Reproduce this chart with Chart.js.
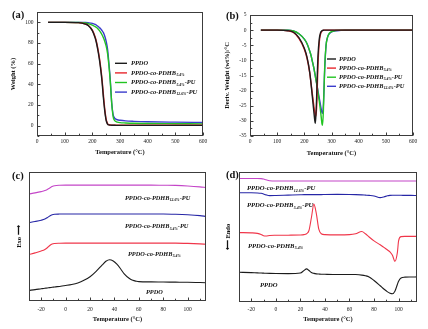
<!DOCTYPE html>
<html>
<head>
<meta charset="utf-8">
<script src="https://cdn.jsdelivr.net/npm/chart.js@4.4.1/dist/chart.umd.min.js"></script>
<style>
  html, body { margin: 0; padding: 0; background: #fff; }
  #fig { position: relative; width: 428px; height: 329px; overflow: hidden; }
  canvas { position: absolute; }
</style>
</head>
<body>
<div id="fig">
  <canvas id="cA" width="214" height="160" style="left:0;top:0"></canvas>
  <canvas id="cB" width="214" height="160" style="left:214px;top:0"></canvas>
  <canvas id="cC" width="214" height="169" style="left:0;top:160px"></canvas>
  <canvas id="cD" width="214" height="169" style="left:214px;top:160px"></canvas>
</div>
<script>
// Noms des échantillons : partie principale, indice, suffixe
const LABEL_MAIN = ['PPDO', 'PPDO-co-PDHB', 'PPDO-co-PDHB', 'PPDO-co-PDHB'];
const LABEL_SUB = ['', '5.4%', '5.4%', '12.6%'];
const LABEL_TAIL = ['', '', '-PU', '-PU'];

// (a) TGA : poids (%) vs température
const T_A = [40, 100, 150, 175, 185, 200, 210, 215, 220, 225, 230, 235, 240, 245, 250, 255, 260, 265, 270, 275, 280, 285, 290, 300, 320, 350, 400, 500, 600];
const A_PPDO = [100, 100, 99.7, 98.3, 97, 92, 85, 80, 73, 65, 55, 43, 27, 14, 5, 1.5, 0.7, 0.5, 0.4, 0.4, 0.4, 0.3, 0.3, 0.3, 0.3, 0.3, 0.3, 0.3, 0.3];
const A_PDHB = [100, 100, 99.7, 98.4, 97.2, 92.5, 86, 81, 74.5, 66.5, 57, 45, 30, 16, 6, 2, 0.9, 0.6, 0.5, 0.5, 0.5, 0.4, 0.4, 0.4, 0.4, 0.4, 0.4, 0.4, 0.4];
const A_PU54 = [100, 100, 99.9, 99.4, 98.8, 97.3, 95.8, 95, 93.8, 92.2, 90.3, 88, 85, 81.5, 77, 70, 58, 42, 22, 9, 5.2, 4, 3.4, 2.9, 2.6, 2.3, 2.1, 1.9, 1.7];
const A_PU126 = [100, 100, 100, 99.8, 99.6, 99, 98, 97.2, 96.2, 95, 93.8, 92, 90, 86.5, 81.5, 74, 60, 44, 22, 11, 7.5, 6.3, 5.7, 5.2, 4.6, 4.2, 3.8, 3.4, 3.1];
const A_X_TICKS = [0, 100, 200, 300, 400, 500, 600];
const A_Y_TICKS = [0, 20, 40, 60, 80, 100];

// (b) DTG : dérivée du poids vs température
const T_B = [40, 100, 140, 160, 180, 200, 210, 220, 225, 230, 235, 238, 240, 242, 245, 248, 250, 255, 260, 263, 265, 267, 270, 273, 275, 280, 285, 290, 300, 320, 350, 400, 500, 600];
const B_PPDO = [0, 0, -0.2, -0.7, -2.5, -6, -9, -14, -18, -22.5, -27, -29.5, -30.8, -29, -23, -14, -9, -3, -0.8, -0.4, -0.2, -0.1, -0.05, 0, 0, 0, 0, 0, 0, 0, 0, 0, 0, 0];
const B_PDHB = [0, 0, -0.2, -0.8, -2.7, -6.3, -9.3, -14.2, -17.8, -21.5, -25, -27, -28, -28.5, -26, -18, -12, -4, -1.2, -0.6, -0.3, -0.15, -0.05, 0, 0, 0, 0, 0, 0, 0, 0, 0, 0, 0];
const B_PU54 = [0, 0, 0, -0.3, -1.2, -3, -4.5, -7, -8.5, -10.5, -12.5, -14, -15, -16, -17.5, -19, -20.5, -23.5, -27, -29.5, -31, -31.5, -27, -18, -12, -5, -2.5, -1.3, -0.5, -0.1, 0, 0, 0, 0];
const B_PU126 = [0, 0, 0, -0.3, -1.2, -3, -4.5, -7, -8.5, -10.5, -12.5, -14, -15, -16, -17.5, -19, -20, -22.5, -25, -26.5, -27.2, -27.5, -25, -18, -13, -5, -2.5, -1.4, -0.6, -0.2, 0, 0, 0, 0];
const B_X_TICKS = [0, 100, 200, 300, 400, 500, 600];
const B_Y_TICKS = [-35, -30, -25, -20, -15, -10, -5, 0, 5];

// (c) DSC refroidissement (unités arbitraires, courbes décalées)
const T_C = [-30, -25, -20, -17, -15, -13, -11, -9, -5, 0, 5, 10, 15, 20, 25, 30, 33, 36, 39, 42, 45, 48, 52, 55, 58, 60, 70, 80, 90, 100, 110, 115];
const C_PU126 = [83, 83.8, 84.8, 85.6, 86.5, 87.6, 88.7, 89.3, 89.7, 89.8, 89.8, 89.8, 89.8, 89.8, 89.8, 89.8, 89.8, 89.8, 89.8, 89.8, 89.8, 89.8, 89.8, 89.8, 89.8, 89.8, 89.8, 89.7, 89.6, 89.2, 88.5, 88];
const C_PU54 = [60.8, 61.6, 62.6, 63.5, 64.6, 65.9, 66.8, 67.2, 67.4, 67.5, 67.5, 67.5, 67.5, 67.5, 67.5, 67.5, 67.5, 67.5, 67.5, 67.5, 67.5, 67.5, 67.5, 67.5, 67.5, 67.5, 67.5, 67.5, 67.3, 66.9, 66.2, 65.6];
const C_PDHB = [36, 37.3, 38.8, 40, 41.3, 43, 44.2, 44.6, 44.8, 44.9, 44.9, 44.9, 44.9, 44.9, 44.9, 44.9, 44.9, 44.9, 44.9, 44.9, 44.9, 44.9, 44.9, 44.9, 44.9, 44.9, 44.9, 44.9, 44.9, 44.7, 44.3, 44];
const C_PPDO = [8.2, 8.8, 9.5, 9.9, 10.1, 10.4, 10.6, 10.9, 11.3, 12, 12.8, 14, 16, 18.8, 23, 28, 30.8, 32, 31, 28.5, 25, 21, 17.6, 16, 15.3, 15, 14.8, 14.7, 14.6, 14.5, 14.3, 14.2];
const CD_X_TICKS = [-20, 0, 20, 40, 60, 80, 100];

// (d) DSC second chauffage
const T_D = [-30, -20, -15, -12, -10, -8, -5, 0, 10, 20, 23, 25, 27, 29, 31, 33, 35, 37, 40, 50, 60, 65, 70, 73, 76, 80, 85, 88, 91, 93, 95, 97, 99, 100, 102, 105, 110, 115];
const D_PU126 = [95, 95, 95, 94.9, 94.6, 94, 93.3, 93.1, 93.1, 93.1, 93.1, 93.1, 93.1, 93.1, 93.1, 93.1, 93.1, 93.1, 93.1, 93.1, 93.1, 93.1, 93.1, 93.1, 93.1, 93.1, 93.1, 93.1, 93.1, 93.1, 93.1, 93.1, 93.1, 93.1, 93.1, 93.1, 93.1, 93.1];
const D_PU54 = [84, 84, 83.9, 83.6, 83.1, 82.4, 81.8, 81.9, 82.2, 82.5, 82.6, 82.6, 82.6, 82.6, 82.6, 82.6, 82.6, 82.6, 82.7, 82.8, 82.7, 82.6, 82.4, 82.2, 82, 81.6, 80.3, 80.8, 81.7, 82, 82.1, 82.1, 82.1, 82.1, 82.1, 82, 82, 81.9];
const D_PDHB = [53.4, 53.2, 52.8, 52, 51, 50.8, 51.2, 51.3, 51.4, 51.5, 51.8, 52.5, 55, 65, 75.3, 68, 56, 52.5, 51.8, 51.6, 51.8, 52.5, 54.2, 52.5, 50, 47, 44, 42, 40, 38.5, 36, 31.3, 38, 47, 50.3, 50.5, 50.5, 50.5];
const D_PPDO = [22.9, 22.6, 22.4, 22.3, 22.2, 22.1, 22, 21.9, 21.8, 22.3, 24.3, 25.5, 24.2, 22.7, 22, 21.6, 21.5, 21.4, 21.3, 21.1, 21.2, 21.1, 20.7, 20.2, 19.3, 16.5, 12.5, 10, 7.8, 6.8, 6.4, 8.3, 13.5, 16, 18.5, 19.1, 19.2, 19.3];

const SERIF = 'Liberation Serif';

function pts(xs, ys) {
  return xs.map((x, i) => ({ x, y: ys[i] }));
}

// Texte avec indice (ex. PPDO-co-PDHB₅.₄%-PU)
function richText(ctx, x, y, idx, size) {
  const big = `italic bold ${size}px "${SERIF}"`;
  const small = `italic bold ${size * 0.6}px "${SERIF}"`;
  ctx.textBaseline = 'middle';
  ctx.textAlign = 'left';
  ctx.font = big;
  ctx.fillText(LABEL_MAIN[idx], x, y);
  x += ctx.measureText(LABEL_MAIN[idx]).width;
  if (LABEL_SUB[idx]) {
    ctx.font = small;
    ctx.fillText(LABEL_SUB[idx], x + 0.3, y + size * 0.35);
    x += ctx.measureText(LABEL_SUB[idx]).width + 0.6;
  }
  if (LABEL_TAIL[idx]) {
    ctx.font = big;
    ctx.fillText(LABEL_TAIL[idx], x, y);
  }
}

// Cadre, graduations vers l'intérieur, légende et étiquettes
const decor = {
  id: 'decor',
  afterDraw(chart, args, o) {
    const { ctx, chartArea: a, scales } = chart;
    ctx.save();
    ctx.strokeStyle = '#3c3c3c';
    ctx.lineWidth = 1;
    const L = Math.round(a.left) + 0.5, T = Math.round(a.top) + 0.5;
    const R = Math.round(a.right) - 0.5, B = Math.round(a.bottom) - 0.5;
    ctx.strokeRect(L, T, R - L, B - T);

    const marks = (sc, isX) => {
      const vals = sc.ticks.map((t) => t.value);
      const step = vals[1] - vals[0];
      let v = vals[0];
      while (v - step / 2 >= sc.min - 1e-9) v -= step / 2;
      ctx.beginPath();
      for (; v <= sc.max + 1e-9; v += step / 2) {
        const k = (v - vals[0]) / step;
        const len = Math.abs(k - Math.round(k)) < 1e-6 ? 3 : 1.8;
        const p = Math.round(sc.getPixelForValue(v)) + 0.5;
        if (isX) { ctx.moveTo(p, B); ctx.lineTo(p, B - len); }
        else { ctx.moveTo(L, p); ctx.lineTo(L + len, p); }
      }
      ctx.stroke();
    };
    marks(scales.x, true);
    if (o.yMarks) marks(scales.y, false);

    ctx.fillStyle = '#111';
    ctx.font = `bold 10.5px "${SERIF}"`;
    ctx.textBaseline = 'alphabetic';
    ctx.fillText(o.tag, o.tagX, o.tagY);

    if (o.legend) {
      const lg = o.legend;
      chart.data.datasets.forEach((ds, i) => {
        const y = lg.y + i * lg.step;
        ctx.strokeStyle = ds.borderColor;
        ctx.lineWidth = 1.4;
        ctx.beginPath();
        ctx.moveTo(lg.x, y);
        ctx.lineTo(lg.x + lg.len, y);
        ctx.stroke();
        ctx.fillStyle = '#111';
        richText(ctx, lg.x + lg.len + lg.gap, y, ds.nameIdx, lg.size);
      });
    }
    if (o.notes) {
      ctx.fillStyle = '#111';
      o.notes.forEach((n) => richText(ctx, n.x, n.y, n.idx, o.noteSize));
    }
    ctx.restore();
  },
};

function makePanel(id, c) {
  return new Chart(document.getElementById(id), {
    type: 'line',
    data: {
      datasets: c.series.map((s) => ({
        data: pts(c.xs, s.ys),
        borderColor: s.color,
        nameIdx: s.idx,
      })),
    },
    options: {
      responsive: false,
      animation: false,
      events: [],
      layout: { padding: c.pad },
      elements: {
        point: { radius: 0 },
        line: { borderWidth: c.lw, cubicInterpolationMode: 'monotone' },
      },
      plugins: {
        legend: { display: false },
        tooltip: { enabled: false },
        decor: c.decor,
      },
      scales: {
        x: {
          type: 'linear',
          min: c.xMin,
          max: c.xMax,
          afterBuildTicks: (s) => { s.ticks = c.xTicks.map((v) => ({ value: v })); },
          afterFit: (s) => { s.height = c.xH; },
          grid: { display: false, drawTicks: false },
          border: { display: false },
          ticks: {
            color: '#222',
            padding: c.xTickPad,
            maxRotation: 0,
            autoSkip: false,
            font: { family: SERIF, size: c.tickSize },
            callback: (v) => String(v),
          },
          title: {
            display: true,
            text: 'Temperature (°C)',
            color: '#111',
            font: { family: SERIF, size: c.titleSize, weight: 'bold' },
            padding: { top: 0, bottom: c.xTitlePad },
          },
        },
        y: {
          min: c.yMin,
          max: c.yMax,
          afterBuildTicks: (s) => { s.ticks = (c.yTicks || []).map((v) => ({ value: v })); },
          afterFit: (s) => { s.width = c.yW; },
          grid: { display: false, drawTicks: false },
          border: { display: false },
          ticks: {
            display: !!c.yTicks,
            color: '#222',
            padding: 3.5,
            autoSkip: false,
            font: { family: SERIF, size: c.tickSize },
            callback: (v) => String(v),
          },
          title: {
            display: true,
            text: c.yTitle,
            color: '#111',
            font: { family: SERIF, size: c.titleSize, weight: 'bold' },
            padding: { top: c.yTitlePad, bottom: 0 },
          },
        },
      },
    },
    plugins: [decor],
  });
}

const BLACK = '#1c1c1c', RED = '#e8262c', GREEN = '#22c422', BLUE = '#3a3ccc';
const BLUE_D = '#2626a6', MAGENTA = '#c446c8', RED_D = '#f0364a';

makePanel('cA', {
  xs: T_A,
  series: [
    { ys: A_PPDO, color: BLACK, idx: 0 },
    { ys: A_PDHB, color: RED, idx: 1 },
    { ys: A_PU54, color: GREEN, idx: 2 },
    { ys: A_PU126, color: BLUE, idx: 3 },
  ],
  pad: { left: 0, right: 11, top: 12, bottom: 0 },
  lw: 1.4, xMin: 0, xMax: 600, yMin: -10, yMax: 110,
  xTicks: A_X_TICKS, yTicks: A_Y_TICKS,
  xH: 24, yW: 37, xTickPad: 2.5, xTitlePad: 3.5, yTitlePad: 9,
  tickSize: 5.5, titleSize: 6.5, yTitle: 'Weight (%)',
  decor: {
    yMarks: true, tag: '(a)', tagX: 12, tagY: 18,
    legend: { x: 115, y: 63.3, step: 9.6, len: 12, gap: 4, size: 6.4 },
  },
});

makePanel('cB', {
  xs: T_B,
  series: [
    { ys: B_PPDO, color: BLACK, idx: 0 },
    { ys: B_PDHB, color: RED, idx: 1 },
    { ys: B_PU54, color: GREEN, idx: 2 },
    { ys: B_PU126, color: BLUE, idx: 3 },
  ],
  pad: { left: 0, right: 15, top: 15, bottom: 0 },
  lw: 1.4, xMin: 0, xMax: 600, yMin: -35, yMax: 5,
  xTicks: B_X_TICKS, yTicks: B_Y_TICKS,
  xH: 24, yW: 36, xTickPad: 2.5, xTitlePad: 2.5, yTitlePad: 9,
  tickSize: 5.5, titleSize: 6.5, yTitle: 'Deriv. Weight (wt%)/°C',
  decor: {
    yMarks: true, tag: '(b)', tagX: 12, tagY: 19,
    legend: { x: 113, y: 59, step: 9.1, len: 9, gap: 3, size: 6.3 },
  },
});

makePanel('cC', {
  xs: T_C,
  series: [
    { ys: C_PPDO, color: BLACK, idx: 0 },
    { ys: C_PDHB, color: RED_D, idx: 1 },
    { ys: C_PU54, color: BLUE_D, idx: 2 },
    { ys: C_PU126, color: MAGENTA, idx: 3 },
  ],
  pad: { left: 0, right: 8, top: 12, bottom: 0 },
  lw: 1.1, xMin: -30, xMax: 115, yMin: 0, yMax: 100,
  xTicks: CD_X_TICKS, yTicks: null,
  xH: 28, yW: 29, xTickPad: 5, xTitlePad: 5.8, yTitlePad: 15,
  tickSize: 5.5, titleSize: 6.5, yTitle: 'Exo ⟶',
  decor: {
    yMarks: false, tag: '(c)', tagX: 12, tagY: 19, noteSize: 6.3,
    notes: [
      { x: 125, y: 38, idx: 3 },
      { x: 125, y: 66.7, idx: 2 },
      { x: 128, y: 94, idx: 1 },
      { x: 146, y: 132, idx: 0 },
    ],
  },
});

makePanel('cD', {
  xs: T_D,
  series: [
    { ys: D_PPDO, color: BLACK, idx: 0 },
    { ys: D_PDHB, color: RED_D, idx: 1 },
    { ys: D_PU54, color: BLUE_D, idx: 2 },
    { ys: D_PU126, color: MAGENTA, idx: 3 },
  ],
  pad: { left: 0, right: 11, top: 12, bottom: 0 },
  lw: 1.1, xMin: -30, xMax: 115, yMin: 0, yMax: 100,
  xTicks: CD_X_TICKS, yTicks: null,
  xH: 27, yW: 25, xTickPad: 4, xTitlePad: 5.8, yTitlePad: 10,
  tickSize: 5.5, titleSize: 6.5, yTitle: '⟵ Endo',
  decor: {
    yMarks: false, tag: '(d)', tagX: 12, tagY: 18, noteSize: 6.6,
    notes: [
      { x: 33, y: 28.3, idx: 3 },
      { x: 33, y: 45.7, idx: 2 },
      { x: 34, y: 86, idx: 1 },
      { x: 46, y: 125, idx: 0 },
    ],
  },
});
</script>
</body>
</html>
